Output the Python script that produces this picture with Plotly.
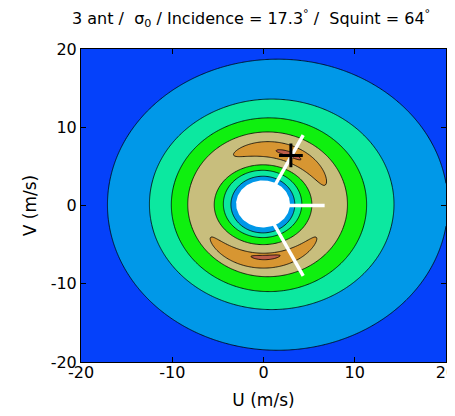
import numpy as np
import plotly.graph_objects as go

# ---------------- data ----------------
u_range = [-20, 20]
v_range = [-20, 20]
tick_vals = [-20, -10, 0, 10, 20]
tick_text = ['-20', '-10', '0', '10', '20']

# filled band colours, lowest sigma0 band -> highest
band_colors = ['rgb(5,65,250)', 'rgb(0,152,232)', 'rgb(12,232,160)',
               'rgb(15,240,15)', 'rgb(200,190,125)', 'rgb(215,150,50)',
               'rgb(190,92,72)']
band_levels = [0.5, 5.5, 1.0]   # start, end, step of the iso-lines

# rising iso-lines (outer rings): centre u, centre v, half width, half height
outer_u0 = [1.55, 0.9, 0.6, 0.45]
outer_v0 = [0.1, 0.15, 0.1, 0.15]
outer_ru = [18.65, 13.4, 10.7, 8.75]
outer_rv = [18.6, 13.45, 11.1, 9.25]

# falling iso-lines (inner rings)
inner_u0 = [-0.05, -0.1, -0.07]
inner_v0 = [0.1, 0.2, 0.12]
inner_ru = [5.35, 4.3, 3.5]
inner_rv = [5.1, 4.3, 3.62]

# crescent-shaped maxima (polar): centre angle, half span, centre radius, half thickness
cres_theta = [69, 270, 67, 272]
cres_dtheta = [48, 55, 12, 14]
cres_r = [7.2, 7.05, 7.15, 6.65]
cres_dr = [1.05, 0.95, 0.3, 0.28]

# centre without data
mask_u0, mask_v0, mask_ru, mask_rv = -0.05, 0.2, 2.95, 3.0

# antenna look directions
ant_origin = [0.0, 0.0]
ant_u = [4.35, 6.7, 4.35]
ant_v = [9.0, 0.0, -9.0]

# retrieved wind vector tip
wind_u = [3.0]
wind_v = [6.4]

title_text = ("3 ant /\u00a0 \u03c3<sub>0</sub> / Incidence = 17.3<sup>\u00b0</sup> /"
              "\u00a0 Squint = 64<sup>\u00b0</sup>")

# ---------------- build the field ----------------
grid = np.linspace(-20, 20, 321)
U, V = np.meshgrid(grid, grid)
w = 0.3


def ramp(d):
    return np.clip(0.5 + d / w, 0.0, 1.0)


Z = np.zeros_like(U)
for u0, v0, ru, rv in zip(outer_u0, outer_v0, outer_ru, outer_rv):
    s = np.sqrt(((U - u0) / ru) ** 2 + ((V - v0) / rv) ** 2)
    Z += ramp((1 - s) * 0.5 * (ru + rv))
for u0, v0, ru, rv in zip(inner_u0, inner_v0, inner_ru, inner_rv):
    s = np.sqrt(((U - u0) / ru) ** 2 + ((V - v0) / rv) ** 2)
    Z -= ramp((1 - s) * 0.5 * (ru + rv))
R = np.hypot(U, V)
TH = np.degrees(np.arctan2(V, U))
for th, dth, r0, dr in zip(cres_theta, cres_dtheta, cres_r, cres_dr):
    dt = (TH - th + 180) % 360 - 180
    q = np.sqrt((dt / dth) ** 2 + ((R - r0) / dr) ** 2)
    Z += ramp((1 - q) * dr)
Z = np.round(Z, 3)

n_bands = len(band_colors) - 1
colorscale = [[k / n_bands, c] for k, c in enumerate(band_colors)]

fig = go.Figure()
fig.add_trace(go.Contour(
    x=grid, y=grid, z=Z,
    autocontour=False,
    contours=dict(start=band_levels[0], end=band_levels[1], size=band_levels[2],
                  coloring='fill', showlines=True),
    line=dict(color='black', width=0.8),
    colorscale=colorscale, showscale=False, hoverinfo='skip'))

t = np.linspace(0, 2 * np.pi, 181)
fig.add_trace(go.Scatter(
    x=mask_u0 + mask_ru * np.cos(t), y=mask_v0 + mask_rv * np.sin(t),
    mode='lines', fill='toself', fillcolor='white',
    line=dict(width=0, color='white'), hoverinfo='skip', showlegend=False))

for au, av in zip(ant_u, ant_v):
    fig.add_trace(go.Scatter(
        x=[ant_origin[0], au], y=[ant_origin[1], av], mode='lines',
        line=dict(color='white', width=3.5), hoverinfo='skip', showlegend=False))

fig.add_trace(go.Scatter(
    x=wind_u, y=wind_v, mode='markers',
    marker=dict(symbol='cross-thin', size=17, line=dict(color='black', width=3)),
    hoverinfo='skip', showlegend=False))

font_family = 'DejaVu Sans'
axis_common = dict(showgrid=False, zeroline=False, showline=True, linecolor='black',
                   linewidth=1, mirror='ticks', ticks='inside', ticklen=5,
                   tickcolor='black', tickvals=tick_vals, ticktext=tick_text,
                   automargin=False,
                   tickfont=dict(family=font_family, size=16, color='black'))

# the page body adds an 8 px offset, so margins are reduced accordingly
fig.update_layout(
    width=455, height=416,
    margin=dict(l=73, r=17, t=41, b=62),
    paper_bgcolor='white', plot_bgcolor='white',
    showlegend=False,
    title=dict(text=title_text, x=64 / 455, xref='container', xanchor='left',
               y=1 - 10 / 416, yref='container', yanchor='middle',
               automargin=False,
               font=dict(family=font_family, size=16, color='black')),
    xaxis=dict(range=u_range, ticklabelstandoff=-4,
               title=dict(text='U (m/s)', standoff=12,
                          font=dict(family=font_family, size=17, color='black')),
               **axis_common),
    yaxis=dict(range=v_range,
               title=dict(text='V (m/s)', standoff=9,
                          font=dict(family=font_family, size=17, color='black')),
               **axis_common),
)

fig.write_html("out.html")
